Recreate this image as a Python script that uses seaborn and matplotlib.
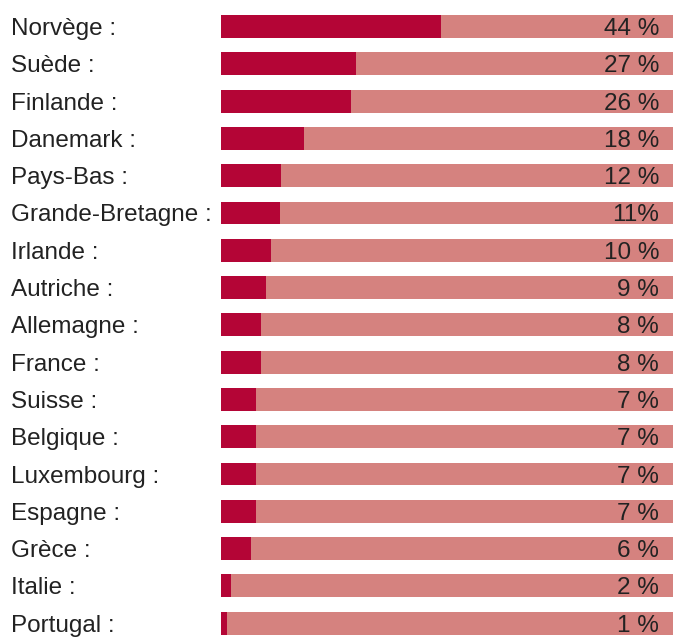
import pandas as pd
import seaborn as sns
import matplotlib.pyplot as plt
from matplotlib import transforms

# données
pays = ["Norvège", "Suède", "Finlande", "Danemark", "Pays-Bas", "Grande-Bretagne",
        "Irlande", "Autriche", "Allemagne", "France", "Suisse", "Belgique",
        "Luxembourg", "Espagne", "Grèce", "Italie", "Portugal"]
valeurs = [44, 27, 26, 16.6, 12, 11.8, 10, 9, 8, 8, 7, 7, 7, 7, 6, 2, 1.2]
etiquettes = ["44 %", "27 %", "26 %", "18 %", "12 %", "11%", "10 %", "9 %", "8 %",
              "8 %", "7 %", "7 %", "7 %", "7 %", "6 %", "2 %", "1 %"]
maximum = 90.4

df = pd.DataFrame({"pays": pays, "valeur": valeurs, "fond": [maximum] * len(pays)})

sns.set_style("white")
plt.rcParams["font.family"] = ["Liberation Sans", "DejaVu Sans"]

fig = plt.figure(figsize=(6.73, 6.37), dpi=100)
ax = fig.add_axes([221 / 673, 0, 1 - 221 / 673, 1])

sns.barplot(data=df, x="fond", y="pays", orient="h", color="#D5827F",
            width=0.615, saturation=1, linewidth=0, ax=ax)
sns.barplot(data=df, x="valeur", y="pays", orient="h", color="#B40536",
            width=0.615, saturation=1, linewidth=0, ax=ax)

ax.set_xlim(0, maximum)
ax.set_ylim(16.37, -0.711)
ax.axis("off")

trans = transforms.blended_transform_factory(fig.transFigure, ax.transData)
for i, (p, e) in enumerate(zip(pays, etiquettes)):
    ax.text(11 / 673, i, p + " :", transform=trans, ha="left", va="center_baseline",
            fontsize=17.5, color="#222222")
    ax.text(659 / 673, i, e, transform=trans, ha="right", va="center_baseline",
            fontsize=17.5, color="#222222")

fig.savefig("out.png", dpi=100)
